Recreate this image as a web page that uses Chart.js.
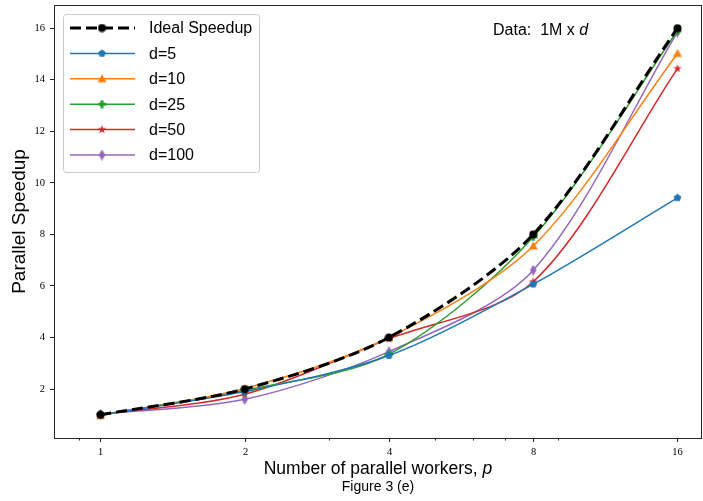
<!DOCTYPE html>
<html>
<head>
<meta charset="utf-8">
<script src="https://cdn.jsdelivr.net/npm/chart.js@4.4.1/dist/chart.umd.min.js"></script>
<style>
  html, body { margin: 0; padding: 0; background: #fff; }
  #wrap { width: 703px; height: 501px; position: relative; }
</style>
</head>
<body>
<div id="wrap"><canvas id="chart" width="703" height="501"></canvas></div>
<script>
const workers = [1, 2, 4, 8, 16];
const xTicks = [1, 2, 4, 8, 16];
const xMinorTicks = [0.9, 3, 5, 6, 7, 9];
const yTicks = [2, 4, 6, 8, 10, 12, 14, 16];

const ideal = [1, 2, 4, 8, 16];
const d5 = [1.0, 1.9, 3.3, 6.07, 9.42];
const d10 = [0.97, 2.02, 4.0, 7.55, 15.02];
const d25 = [1.0, 1.95, 3.35, 7.9, 15.9];
const d50 = [1.0, 1.8, 3.95, 6.16, 14.43];
const d100 = [1.02, 1.6, 3.45, 6.61, 15.85];

const SANS = "'Liberation Sans', Arial, sans-serif";
const SERIF = "'Liberation Serif', serif";

// small canvases for matplotlib-like markers
function marker(shape, color, size) {
  const c = document.createElement("canvas");
  c.width = size; c.height = size;
  const g = c.getContext("2d");
  const m = size / 2;
  g.fillStyle = color;
  g.beginPath();
  if (shape === "circle") {
    g.arc(m, m, m - 0.5, 0, Math.PI * 2);
  } else if (shape === "pentagon" || shape === "star") {
    const n = shape === "star" ? 10 : 5;
    for (let i = 0; i < n; i++) {
      const a = -Math.PI / 2 + i * 2 * Math.PI / n;
      const r = shape === "star" && i % 2 ? (m - 0.5) * 0.4 : m - 0.5;
      const px = m + r * Math.cos(a), py = m + r * Math.sin(a);
      i ? g.lineTo(px, py) : g.moveTo(px, py);
    }
  } else if (shape === "triangle") {
    g.moveTo(m, 0.5); g.lineTo(size - 0.5, size - 1.5); g.lineTo(0.5, size - 1.5);
  } else if (shape === "plus") {
    const t = size * 0.18;
    g.rect(m - t, 0.5, 2 * t, size - 1);
    g.rect(0.5, m - t, size - 1, 2 * t);
  } else if (shape === "thindiamond") {
    g.moveTo(m, 0); g.lineTo(m + size * 0.3, m); g.lineTo(m, size); g.lineTo(m - size * 0.3, m);
  }
  g.closePath();
  g.fill();
  return c;
}

const series = [
  { label: "Ideal Speedup", values: ideal, color: "#000000", shape: "circle", size: 9, width: 3, dash: [11, 5] },
  { label: "d=5", values: d5, color: "#1f77b4", shape: "pentagon", size: 9, width: 1.5, dash: [] },
  { label: "d=10", values: d10, color: "#ff7f0e", shape: "triangle", size: 10, width: 1.5, dash: [] },
  { label: "d=25", values: d25, color: "#2ca02c", shape: "plus", size: 9, width: 1.5, dash: [] },
  { label: "d=50", values: d50, color: "#d62728", shape: "star", size: 10, width: 1.5, dash: [] },
  { label: "d=100", values: d100, color: "#9467bd", shape: "thindiamond", size: 11, width: 1.5, dash: [] },
];
for (const s of series) s.img = marker(s.shape, s.color, s.size);

const datasets = series.map(s => ({
  label: s.label,
  data: workers.map((w, i) => ({ x: w, y: s.values[i] })),
  borderColor: s.color,
  backgroundColor: s.color,
  borderWidth: s.width,
  borderDash: s.dash,
  pointStyle: s.img,
  pointRadius: s.size / 2,
  tension: 0.3,
  fill: false,
}));

const extras = {
  id: "extras",
  afterDraw(chart) {
    const { ctx, chartArea: a, scales } = chart;
    ctx.save();
    // frame
    ctx.strokeStyle = "#262626";
    ctx.lineWidth = 1;
    ctx.strokeRect(a.left + 0.5, a.top + 0.5, a.right - a.left - 1, a.bottom - a.top);
    // x ticks (major + minor) and labels
    ctx.fillStyle = "#000";
    ctx.font = `10.5px ${SERIF}`;
    ctx.textAlign = "center";
    ctx.textBaseline = "top";
    for (const v of xTicks) {
      const px = Math.round(scales.x.getPixelForValue(v)) + 0.5;
      ctx.beginPath();
      ctx.moveTo(px, a.bottom);
      ctx.lineTo(px, a.bottom + 4);
      ctx.stroke();
      ctx.fillText(String(v), px, a.bottom + 9);
    }
    for (const v of xMinorTicks) {
      const px = Math.round(scales.x.getPixelForValue(v)) + 0.5;
      ctx.beginPath();
      ctx.moveTo(px, a.bottom);
      ctx.lineTo(px, a.bottom + 2.5);
      ctx.stroke();
    }
    // legend
    const lx = 63, ly = 14, lw = 196, lh = 158;
    ctx.fillStyle = "rgba(255,255,255,0.8)";
    ctx.strokeStyle = "#cccccc";
    ctx.beginPath();
    ctx.roundRect(lx + 0.5, ly + 0.5, lw, lh, 3);
    ctx.fill();
    ctx.stroke();
    series.forEach((s, i) => {
      const y = 28 + i * 25.4;
      ctx.strokeStyle = s.color;
      ctx.lineWidth = s.width;
      ctx.setLineDash(s.dash);
      ctx.beginPath();
      ctx.moveTo(70, y);
      ctx.lineTo(135, y);
      ctx.stroke();
      ctx.setLineDash([]);
      ctx.drawImage(s.img, 102 - s.size / 2, y - s.size / 2);
      ctx.fillStyle = "#000";
      ctx.font = `16px ${SANS}`;
      ctx.textBaseline = "middle";
      ctx.textAlign = "left";
      ctx.fillText(s.label, 149, y + 1);
    });
    // annotation
    ctx.font = `16px ${SANS}`;
    ctx.textBaseline = "middle";
    const t1 = "Data:  1M x ";
    ctx.fillText(t1, 493, 31);
    const w1 = ctx.measureText(t1).width;
    ctx.font = `italic 16px ${SANS}`;
    ctx.fillText("d", 493 + w1, 31);
    // x title with italic p
    ctx.font = `17.5px ${SANS}`;
    const t2 = "Number of parallel workers, ";
    const w2 = ctx.measureText(t2).width;
    ctx.font = `italic 17.5px ${SANS}`;
    const w3 = ctx.measureText("p").width;
    const x0 = (a.left + a.right) / 2 - (w2 + w3) / 2;
    ctx.font = `17.5px ${SANS}`;
    ctx.fillText(t2, x0, 469);
    ctx.font = `italic 17.5px ${SANS}`;
    ctx.fillText("p", x0 + w2, 469);
    // figure caption
    ctx.font = `14px ${SANS}`;
    ctx.textAlign = "center";
    ctx.fillText("Figure 3 (e)", (a.left + a.right) / 2, 487);
    ctx.restore();
  },
};

new Chart(document.getElementById("chart"), {
  type: "line",
  data: { datasets },
  plugins: [extras],
  options: {
    animation: false,
    responsive: false,
    layout: { autoPadding: false, padding: { top: 5, right: 1, bottom: 0, left: 0 } },
    plugins: { legend: { display: false }, tooltip: { enabled: false } },
    scales: {
      x: {
        type: "logarithmic",
        min: 0.8, max: 18,
        afterBuildTicks: s => { s.ticks = xTicks.map(v => ({ value: v })); },
        afterFit: s => { s.height = 63; s.paddingLeft = 0; s.paddingRight = 0; },
        ticks: { display: false },
        grid: { display: false },
        border: { display: false },
      },
      y: {
        type: "linear",
        min: 0.1, max: 16.9,
        afterBuildTicks: s => { s.ticks = yTicks.map(v => ({ value: v })); },
        afterFit: s => { s.width = 54; s.paddingTop = 0; s.paddingBottom = 0; },
        ticks: { color: "#000", font: { family: SERIF, size: 10.5 }, padding: 5,
                 callback: v => String(v) },
        grid: { display: true, drawOnChartArea: false, tickLength: 4, color: "#262626" },
        border: { display: false },
        title: { display: true, text: "Parallel Speedup", color: "#000",
                 font: { family: SANS, size: 19 }, padding: { top: 8, bottom: 0 } },
      },
    },
  },
});
</script>
</body>
</html>
